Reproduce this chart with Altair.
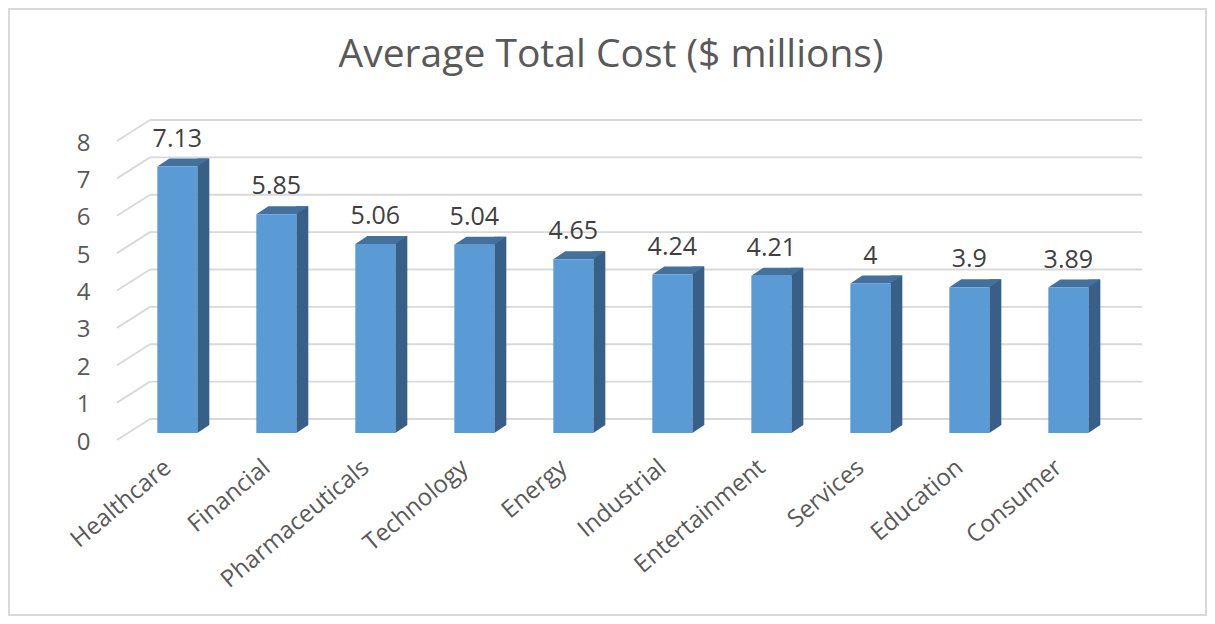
import altair as alt
import pandas as pd

categories = ["Healthcare", "Financial", "Pharmaceuticals", "Technology", "Energy",
              "Industrial", "Entertainment", "Services", "Education", "Consumer"]
costs = [7.13, 5.85, 5.06, 5.04, 4.65, 4.24, 4.21, 4.0, 3.9, 3.89]
cost_labels = ["7.13", "5.85", "5.06", "5.04", "4.65", "4.24", "4.21", "4", "3.9", "3.89"]
y_ticks = [0, 1, 2, 3, 4, 5, 6, 7, 8]

bars = pd.DataFrame({"industry": categories, "cost": costs, "label": cost_labels,
                     "base": [0] * len(categories)})
grid = pd.DataFrame({"tick": y_ticks})
one = pd.DataFrame({"k": [0]})

W, H = 992, 299
FW, D, E = 40, 12, 8
FONT = "Open Sans"
TXT = "#595959"
FRONT, TOP, SIDE = "#5B9BD5", "#41719C", "#385F88"
GRID = "#d9d9d9"

xscale = alt.Scale(paddingInner=0.596, paddingOuter=0.308, align=0.12)
yscale = alt.Scale(domain=[0, 8], nice=False)

xaxis = alt.Axis(title=None, labelAngle=-40, labelFont=FONT, labelFontSize=24, labelColor=TXT,
                 domain=False, ticks=False, grid=False, labelPadding=22, labelOffset=-17,
                 labelLimit=400)
yaxis = alt.Axis(title=None, values=y_ticks, domain=False, ticks=False, grid=False,
                 labelFont=FONT, labelFontSize=24, labelColor=TXT,
                 labelPadding=60, labelOffset=9)


def X():
    return alt.X("industry:N", sort=categories, scale=xscale, axis=xaxis)


def Y(field):
    return alt.Y(field, scale=yscale, axis=yaxis)


grid_layer = alt.Chart(grid).mark_rule(color=GRID, strokeWidth=1.8, yOffset=-14).encode(
    y=Y("tick:Q"), x=alt.value(0), x2=alt.value(W),
)

diag_layer = alt.Chart(grid).mark_rule(color=GRID, strokeWidth=1.8, yOffset=7, y2Offset=-14).encode(
    y=Y("tick:Q"), y2=alt.Y2("tick"), x=alt.value(-33), x2=alt.value(0),
)

side_layer = alt.Chart(bars).mark_bar(color=SIDE, width=D, xOffset=FW / 2 + D / 2,
                                     yOffset=-E, y2Offset=-E).encode(
    x=X(), y=Y("cost:Q"), y2=alt.Y2("base"),
)

tri_path = "M 2 -0.8 L 3.2 -0.8 L 2 0 Z"
top_path = "M -2 0 L -0.8 -0.8 L 3.2 -0.8 L 2 0 Z"

tri_layer = alt.Chart(bars).mark_point(shape=tri_path, size=400, filled=True, color=SIDE,
                                       opacity=1, strokeWidth=0).encode(
    x=X(), y=Y("base:Q"),
)

top_layer = alt.Chart(bars).mark_point(shape=top_path, size=400, filled=True, color=TOP,
                                       opacity=1, strokeWidth=0).encode(
    x=X(), y=Y("cost:Q"),
)

front_layer = alt.Chart(bars).mark_bar(color=FRONT, width=FW).encode(
    x=X(), y=Y("cost:Q"), y2=alt.Y2("base"),
)

text_layer = alt.Chart(bars).mark_text(dy=-20, baseline="alphabetic", font=FONT, fontSize=25,
                                       color="#404040").encode(
    x=X(), y=Y("cost:Q"), text="label:N",
)

frame = alt.Chart(one).mark_rect(fillOpacity=0, stroke=GRID, strokeWidth=2).encode(
    x=alt.value(-141), x2=alt.value(1056), y=alt.value(-125), y2=alt.value(481),
)

chart = alt.layer(
    grid_layer, diag_layer, side_layer, tri_layer, top_layer, front_layer, text_layer, frame
).properties(
    width=W, height=H,
    padding={"left": 142, "top": 126, "right": 65, "bottom": 183},
    autosize=alt.AutoSizeParams(type="none"),
    title=alt.TitleParams("Average Total Cost ($ millions)", font=FONT, fontSize=39,
                          fontWeight="normal", color=TXT, anchor="middle", dx=-35,
                          offset=-67, frame="group"),
).configure_view(stroke=None)

chart.save("out.html", embed_options={"renderer": "svg", "actions": False})
